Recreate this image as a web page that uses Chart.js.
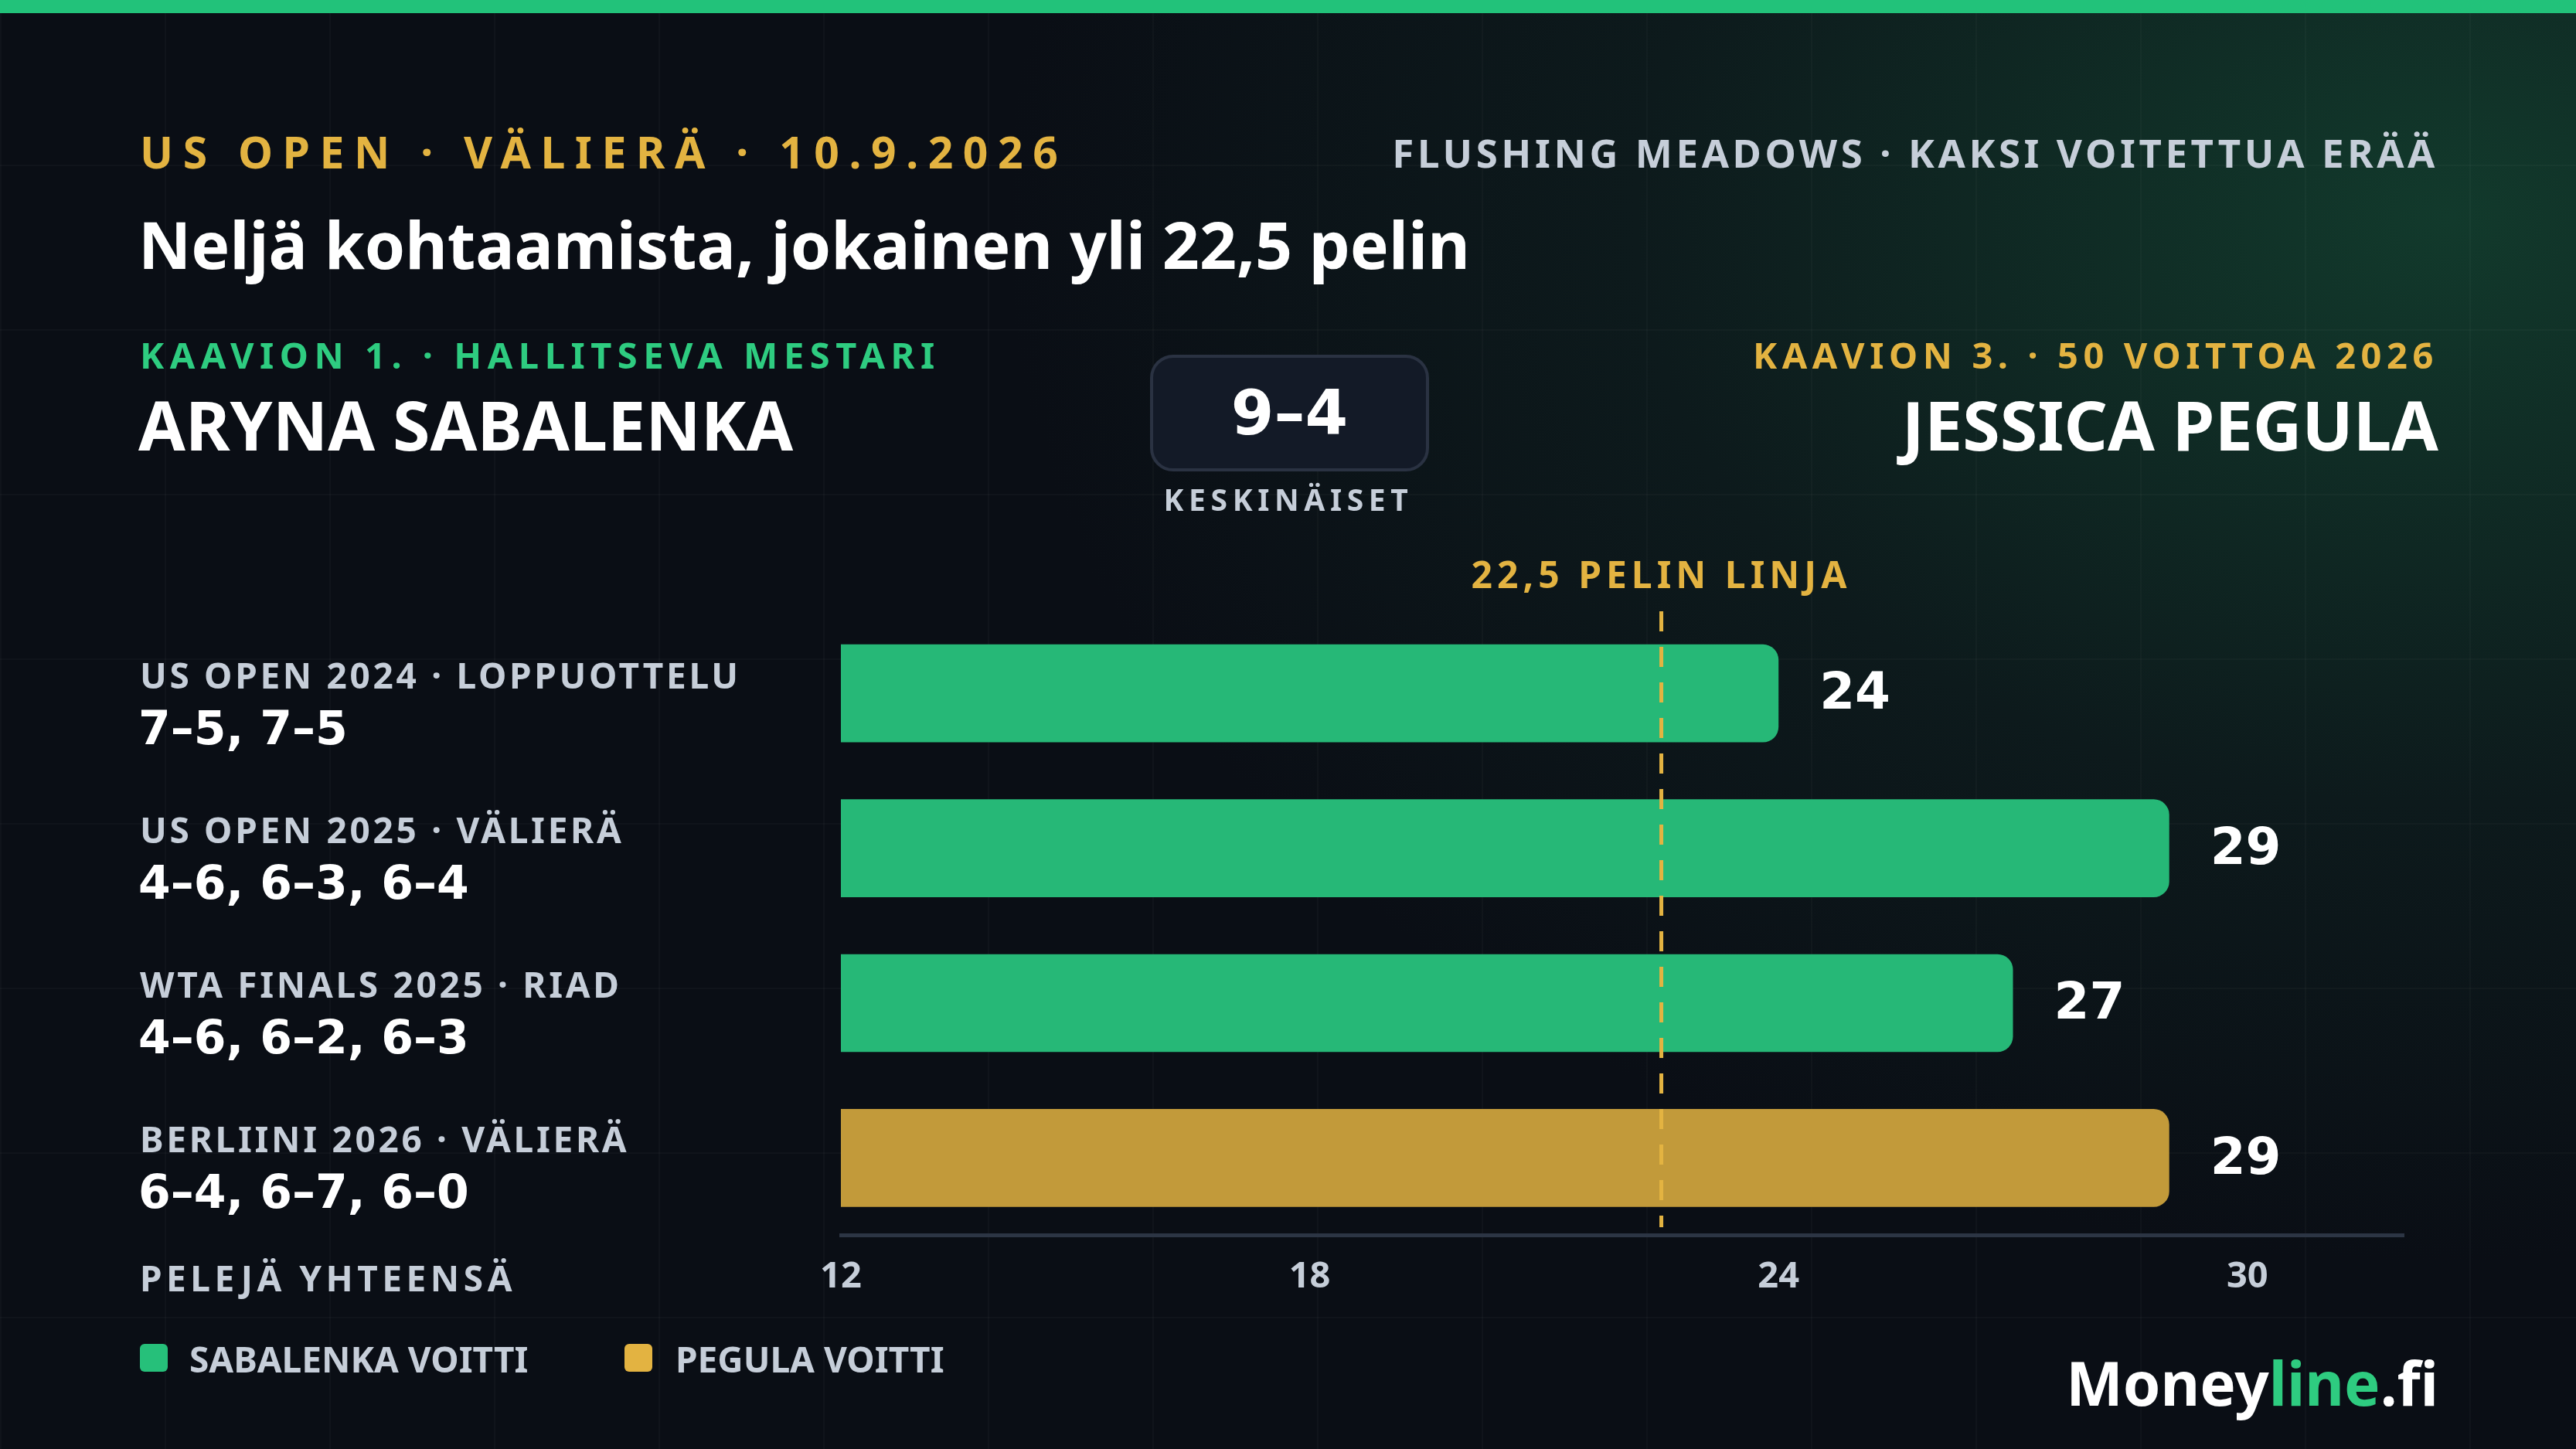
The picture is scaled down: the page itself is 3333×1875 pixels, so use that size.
<!DOCTYPE html>
<html><head><meta charset="utf-8">
<script src="https://cdn.jsdelivr.net/npm/chart.js@4/dist/chart.umd.min.js"></script>
<style>
html,body{margin:0;padding:0;width:3333px;height:1875px;overflow:hidden;}
body{background:radial-gradient(ellipse 70% 90% at 95% 15%, #123a2c 0%, #0d1a1c 45%, #0a0e15 80%);font-family:"Noto Sans",sans-serif;position:relative;}
#grid{position:absolute;inset:0;background-image:linear-gradient(rgba(255,255,255,0.025) 2px,transparent 2px),linear-gradient(90deg,rgba(255,255,255,0.025) 2px,transparent 2px);background-size:213px 213px;}
#topbar{position:absolute;left:0;top:0;width:3333px;height:17px;background:#22c27a;}
.t{position:absolute;white-space:nowrap;line-height:1;}
canvas{position:absolute;left:0;top:0;}
</style></head><body>
<div id="grid"></div><div id="topbar"></div>
<canvas id="c" width="3333" height="1875"></canvas>
<div class="t" style="left:181px;top:168px;font-size:57px;font-weight:700;color:#e3b341;letter-spacing:0.22em;">US OPEN · VÄLIERÄ · 10.9.2026</div>
<div class="t" style="right:178px;top:172px;font-size:51px;font-weight:700;color:#c6ced9;letter-spacing:0.09em;">FLUSHING MEADOWS · KAKSI VOITETTUA ERÄÄ</div>
<div class="t" style="left:179px;top:274px;font-size:84px;font-weight:700;color:#fff;">Neljä kohtaamista, jokainen yli 22,5 pelin</div>
<div class="t" style="left:181px;top:436px;font-size:47px;font-weight:700;color:#2ecc80;letter-spacing:0.16em;">KAAVION 1. · HALLITSEVA MESTARI</div>
<div class="t" style="left:179px;top:505px;font-size:88px;font-weight:700;color:#fff;">ARYNA SABALENKA</div>
<div class="t" style="right:178px;top:436px;font-size:47px;font-weight:700;color:#e3b341;letter-spacing:0.14em;">KAAVION 3. · 50 VOITTOA 2026</div>
<div class="t" style="right:178px;top:505px;font-size:88px;font-weight:700;color:#fff;">JESSICA PEGULA</div>
<div style="position:absolute;left:1488px;top:459px;width:353px;height:143px;border:4px solid #2a3242;border-radius:30px;background:#131a27;display:flex;align-items:center;justify-content:center;font-family:'DejaVu Sans';font-weight:700;font-size:80px;color:#fff;">9–4</div>
<div class="t" style="left:1667px;top:626px;transform:translateX(-50%);font-size:39px;font-weight:700;color:#c6ced9;letter-spacing:0.17em;">KESKINÄISET</div>
<div class="t" style="left:181px;top:1630px;font-size:46px;font-weight:700;color:#c6ced9;letter-spacing:0.12em;">PELEJÄ YHTEENSÄ</div>
<div style="position:absolute;left:181px;top:1739px;width:36px;height:36px;border-radius:6px;background:#26c07a;"></div>
<div class="t" style="left:245px;top:1735px;font-size:46px;font-weight:700;color:#c6ced9;">SABALENKA VOITTI</div>
<div style="position:absolute;left:808px;top:1739px;width:36px;height:36px;border-radius:6px;background:#e3b341;"></div>
<div class="t" style="left:874px;top:1735px;font-size:46px;font-weight:700;color:#c6ced9;">PEGULA VOITTI</div>
<div class="t" style="right:178px;top:1750px;font-size:78px;font-weight:700;color:#fff;">Money<span style="color:#2ecc80">line</span>.fi</div>
<div id="cats"></div>
<script>
const matches = ["US OPEN 2024 · LOPPUOTTELU","US OPEN 2025 · VÄLIERÄ","WTA FINALS 2025 · RIAD","BERLIINI 2026 · VÄLIERÄ"];
const scores = ["7–5, 7–5","4–6, 6–3, 6–4","4–6, 6–2, 6–3","6–4, 6–7, 6–0"];
const games = [24,29,27,29];
const winners = ["SABALENKA","SABALENKA","SABALENKA","PEGULA"];
const line = 22.5;
const xTicks = [12,18,24,30];

const cats = document.getElementById('cats');
matches.forEach((m,i)=>{
  const y = 850 + i*200;
  cats.insertAdjacentHTML('beforeend',
   `<div class="t" style="left:181px;top:${y}px;font-size:46px;font-weight:700;color:#c6ced9;letter-spacing:0.08em;">${m}</div>
    <div class="t" style="left:179px;top:${y+62}px;font-family:'DejaVu Sans';font-size:60px;font-weight:700;color:#fff;">${scores[i]}</div>`);
});

const extras = {
  id:'extras',
  afterDatasetsDraw(chart){
    const {ctx, scales:{x,y}} = chart;
    const meta = chart.getDatasetMeta(0);
    ctx.save();
    ctx.fillStyle='#fff';ctx.font='bold 66px "DejaVu Sans"';ctx.textBaseline='middle';ctx.textAlign='left';
    meta.data.forEach((b,i)=>ctx.fillText(String(games[i]), b.x+53, b.y+3));
    const lx = x.getPixelForValue(line);
    ctx.strokeStyle='#e3b341';ctx.lineWidth=5;ctx.setLineDash([26,20]);
    ctx.beginPath();ctx.moveTo(lx,791);ctx.lineTo(lx,1588);ctx.stroke();
    ctx.setLineDash([]);
    ctx.fillStyle='#e3b341';ctx.font='bold 48px "Noto Sans"';ctx.textAlign='center';ctx.textBaseline='alphabetic';
    if (ctx.letterSpacing!==undefined) ctx.letterSpacing='6px';
    ctx.fillText('22,5 PELIN LINJA', lx, 761);
    ctx.restore();
  }
};

new Chart(document.getElementById('c'),{
  type:'bar',
  data:{labels:matches,datasets:[{data:games,
    backgroundColor:winners.map(w=>w==='PEGULA'?'#c29a3a':'#26b877'),
    borderRadius:20,borderSkipped:false,barPercentage:0.8,categoryPercentage:0.79}]},
  options:{indexAxis:'y',responsive:false,animation:false,
    layout:{padding:{left:1088,right:223,top:797,bottom:168}},
    plugins:{legend:{display:false},tooltip:{enabled:false}},
    scales:{
      x:{min:12,max:32,afterBuildTicks(a){a.ticks=xTicks.map(v=>({value:v}));},
        grid:{display:false,drawTicks:false},border:{display:true,color:'#2c3544',width:5},
        ticks:{color:'#c6ced9',font:{family:'Noto Sans',size:47,weight:'bold'},padding:26}},
      y:{display:false}
    }},
  plugins:[extras]
});
</script>
</body></html>
